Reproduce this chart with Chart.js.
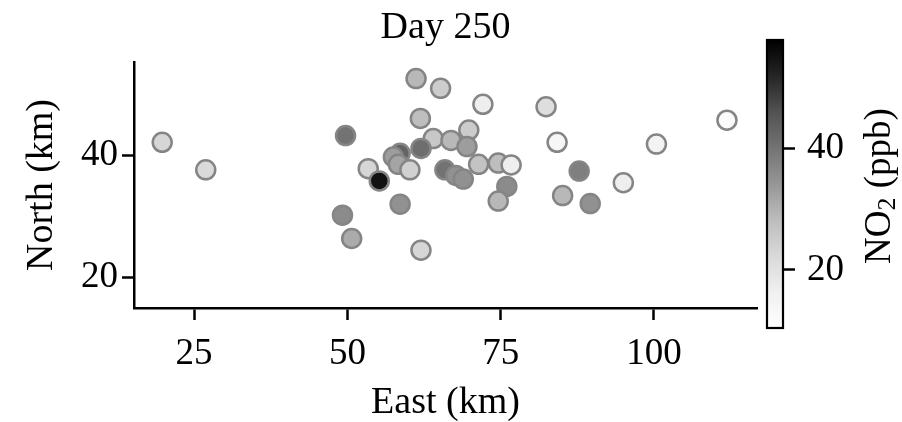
<!DOCTYPE html>
<html><head><meta charset="utf-8">
<script src="https://cdn.jsdelivr.net/npm/chart.js@4"></script>
<style>html,body{margin:0;padding:0;background:#fff;}#wrap{position:relative;width:902px;height:422px;background:#fff;}canvas{position:absolute;left:0;top:0;}</style>
</head><body><div id="wrap"><canvas id="main" width="902" height="422"></canvas><canvas id="cb" width="902" height="422"></canvas></div>
<script>
// ---- data ----
const east  = [19.8, 26.9, 49.7, 49.2, 50.7, 61.2, 65.2, 72.1, 61.9, 64.0, 62.0, 66.9, 69.8, 69.5, 71.4, 65.9, 67.7, 68.9, 53.4, 55.2, 58.6, 57.5, 58.3, 60.2, 58.6, 62.0, 74.6, 76.7, 76.0, 74.6, 82.4, 84.2, 87.8, 85.1, 89.6, 95.0, 100.4, 111.9];
const north = [42.1, 37.6, 43.2, 30.2, 26.4, 52.5, 50.9, 48.3, 46.0, 42.7, 41.1, 42.4, 44.1, 41.4, 38.5, 37.6, 36.7, 36.1, 37.8, 35.8, 40.3, 39.7, 38.5, 37.6, 32.0, 24.5, 38.7, 38.4, 34.9, 32.5, 47.9, 42.1, 37.4, 33.4, 32.1, 35.5, 41.8, 45.7];
const no2   = [23, 22, 40, 36, 31, 29, 25, 17, 28, 26, 41, 29, 25, 33, 27, 40, 35, 35, 23, 55, 43, 33, 32, 24, 35, 23, 28, 17, 36, 29, 21, 14, 38, 29, 35, 17, 15, 12];
const xTicks = [25, 50, 75, 100];
const yTicks = [20, 40];
const cbTicks = [20, 40];
const xRange = [15.2, 116.8];
const yRange = [15.06, 55.2];
const cbRange = [10.46, 57.8];

const FONT = "'Liberation Serif', 'Times New Roman', serif";
// matplotlib "Greys" colormap stops
const greys = ['#ffffff','#f0f0f0','#d9d9d9','#bdbdbd','#969696','#737373','#525252','#252525','#000000'];
function hex2rgb(h){return [parseInt(h.slice(1,3),16),parseInt(h.slice(3,5),16),parseInt(h.slice(5,7),16)];}
function cmap(v){
  let t=(v-cbRange[0])/(cbRange[1]-cbRange[0]); t=Math.max(0,Math.min(1,t));
  const p=t*(greys.length-1); const i=Math.min(Math.floor(p),greys.length-2); const f=p-i;
  const a=hex2rgb(greys[i]), b=hex2rgb(greys[i+1]);
  const c=a.map((x,k)=>Math.round(x+(b[k]-x)*f));
  return `rgb(${c[0]},${c[1]},${c[2]})`;
}

const points = east.map((x,i)=>({x:x,y:north[i]}));

new Chart(document.getElementById('main'), {
  type:'scatter',
  data:{datasets:[{
    data:points,
    backgroundColor:no2.map(cmap),
    borderColor:'#858585',
    borderWidth:2.5,
    pointRadius:9.5,
    pointHoverRadius:9.5
  }]},
  options:{
    responsive:false, animation:false, events:[],
    layout:{padding:{left:0,right:145,top:0,bottom:0}},
    plugins:{
      legend:{display:false}, tooltip:{enabled:false},
      title:{display:true,text:'Day 250',color:'#000',fullSize:false,
        font:{family:FONT,size:38,weight:'normal',lineHeight:1.2},padding:{top:5.5,bottom:10.9}}
    },
    scales:{
      x:{type:'linear',min:xRange[0],max:xRange[1],
        afterBuildTicks:s=>{s.ticks=xTicks.map(v=>({value:v}));},
        afterFit:s=>{s.height=114;},
        grid:{display:true,drawOnChartArea:false,drawTicks:true,tickLength:12,tickWidth:2.5,tickColor:'#000',color:'#000'},
        border:{display:true,color:'#000',width:2.5},
        ticks:{color:'#000',padding:12,maxRotation:0,font:{family:FONT,size:37}},
        title:{display:true,text:'East (km)',color:'#000',font:{family:FONT,size:38,lineHeight:1.0},padding:{top:0,bottom:0}}
      },
      y:{type:'linear',min:yRange[0],max:yRange[1],
        afterBuildTicks:s=>{s.ticks=yTicks.map(v=>({value:v}));},
        afterFit:s=>{s.width=134;},
        grid:{display:true,drawOnChartArea:false,drawTicks:true,tickLength:12,tickWidth:2.5,tickColor:'#000',color:'#000'},
        border:{display:true,color:'#000',width:2.5},
        ticks:{color:'#000',padding:4,font:{family:FONT,size:37}},
        title:{display:true,text:'North (km)',color:'#000',font:{family:FONT,size:38,lineHeight:1.2},padding:{top:19,bottom:0}}
      }
    }
  }
});

// colorbar
const cbPlugin = {
  id:'cbfill',
  beforeDatasetsDraw(chart){
    const {ctx,chartArea:a}=chart;
    const g=ctx.createLinearGradient(0,a.bottom,0,a.top);
    greys.forEach((c,i)=>g.addColorStop(i/(greys.length-1),c));
    ctx.save(); ctx.fillStyle=g; ctx.fillRect(a.left,a.top,a.right-a.left,a.bottom-a.top);
    ctx.lineWidth=2.2; ctx.strokeStyle='#000'; ctx.strokeRect(a.left,a.top,a.right-a.left,a.bottom-a.top);
    ctx.restore();
  },
  afterDraw(chart){
    const {ctx,chartArea:a}=chart;
    ctx.save();
    ctx.translate(880,(a.top+a.bottom)/2+2);
    ctx.rotate(-Math.PI/2);
    ctx.fillStyle='#000'; ctx.textBaseline='middle'; ctx.textAlign='left';
    const big='37px '+FONT, small='26px '+FONT;
    ctx.font=big; const w1=ctx.measureText('NO').width, w3=ctx.measureText(' (ppb)').width;
    ctx.font=small; const w2=ctx.measureText('2').width;
    let x=-(w1+w2+w3)/2;
    ctx.font=big; ctx.fillText('NO',x,0); x+=w1;
    ctx.font=small; ctx.fillText('2',x,8); x+=w2;
    ctx.font=big; ctx.fillText(' (ppb)',x,0);
    ctx.restore();
  }
};
new Chart(document.getElementById('cb'), {
  type:'scatter',
  data:{datasets:[{data:[]}]},
  options:{
    responsive:false, animation:false, events:[],
    layout:{padding:{left:767,right:0,top:40,bottom:94}},
    plugins:{legend:{display:false},tooltip:{enabled:false}},
    scales:{
      x:{display:false,min:0,max:1},
      y:{type:'linear',position:'right',min:cbRange[0],max:cbRange[1],
        afterBuildTicks:s=>{s.ticks=cbTicks.map(v=>({value:v}));},
        afterFit:s=>{s.width=119;},
        grid:{display:true,drawOnChartArea:false,drawTicks:true,tickLength:12,tickWidth:2.5,tickColor:'#000',color:'#000'},
        border:{display:false},
        ticks:{color:'#000',padding:12,font:{family:FONT,size:37}}
      }
    }
  },
  plugins:[cbPlugin]
});
</script>
</body></html>
